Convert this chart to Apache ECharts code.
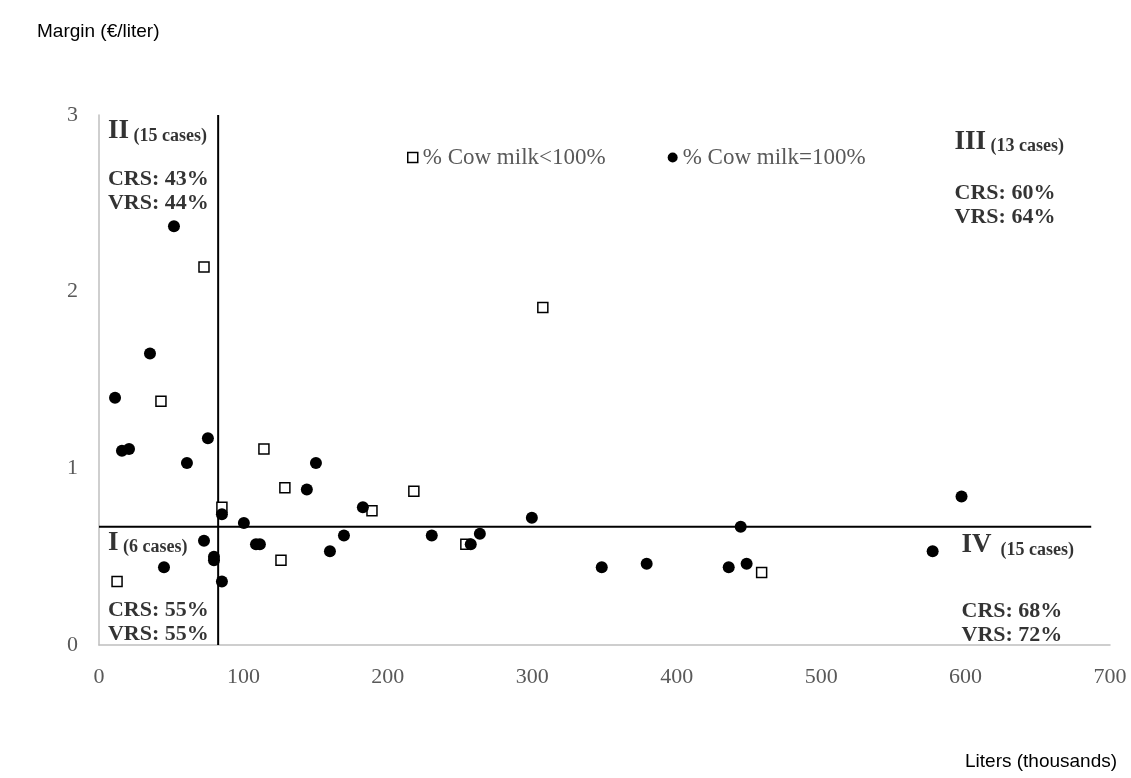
<!DOCTYPE html>
<html>
<head>
<meta charset="utf-8">
<style>
html,body{margin:0;padding:0;background:#fff;}
#chart{width:1131px;height:778px;}
</style>
<script src="https://cdn.jsdelivr.net/npm/echarts@6/dist/echarts.min.js"></script>
</head>
<body>
<div id="chart"></div>
<script>
// ---- data ----
var xTicks = [0, 100, 200, 300, 400, 500, 600, 700];
var yTicks = [0, 1, 2, 3];
var seriesNames = ['% Cow milk<100%', '% Cow milk=100%'];
// % Cow milk < 100% (open squares): [liters (thousands), margin (€/liter)]
var cowLess100 = [
  [72.7, 2.14], [42.9, 1.38], [114.2, 1.11], [128.7, 0.89], [85.1, 0.78],
  [126.0, 0.48], [12.5, 0.36], [189.0, 0.76], [218.0, 0.87], [254.0, 0.57],
  [458.8, 0.41], [307.3, 1.91]
];
// % Cow milk = 100% (filled circles)
var cowEq100 = [
  [51.9, 2.37], [35.3, 1.65], [11.1, 1.40], [15.9, 1.10], [20.8, 1.11],
  [75.4, 1.17], [60.9, 1.03], [150.2, 1.03], [143.9, 0.88], [85.1, 0.74],
  [100.3, 0.69], [72.7, 0.59], [108.7, 0.57], [111.4, 0.57], [159.9, 0.53],
  [79.6, 0.50], [79.6, 0.48], [45.0, 0.44], [85.1, 0.36], [182.7, 0.78],
  [169.6, 0.62], [230.4, 0.62], [257.4, 0.57], [263.7, 0.63], [299.7, 0.72],
  [348.1, 0.44], [379.2, 0.46], [436.0, 0.44], [444.3, 0.67], [448.4, 0.46],
  [577.2, 0.53], [597.2, 0.84]
];
// quadrant split values
var splitX = 82.5;
var splitY = 0.67;
var splitYEnd = 687;
// quadrant annotations
var quadrantHeads = [
  [6.2, 2.91, 'II', ' (15 cases)'],
  [592.4, 2.85, 'III', ' (13 cases)'],
  [6.2, 0.58, 'I', ' (6 cases)'],
  [597.2, 0.566, 'IV', '  (15 cases)']
];
var quadrantStats = [
  [6.2, 2.567, 'CRS: 43%', 'VRS: 44%'],
  [592.4, 2.49, 'CRS: 60%', 'VRS: 64%'],
  [6.2, 0.13, 'CRS: 55%', 'VRS: 55%'],
  [597.2, 0.125, 'CRS: 68%', 'VRS: 72%']
];

var serif = '"Liberation Serif", "Times New Roman", serif';
var chart = echarts.init(document.getElementById('chart'), null, {renderer: 'canvas'});
var option = {
  backgroundColor: '#fff',
  animation: false,
  grid: {left: 99, right: 21, top: 115, bottom: 133, containLabel: false, outerBoundsMode: 'none'},
  legend: {
    left: 402, top: 141,
    itemWidth: 10, itemHeight: 10, itemGap: 62,
    textStyle: {color: '#595959', fontFamily: serif, fontSize: 23},
    data: [
      {name: seriesNames[0], icon: 'rect', itemStyle: {color: '#fff', borderColor: '#000', borderWidth: 1.5}},
      {name: seriesNames[1], icon: 'circle', itemStyle: {color: '#000'}}
    ]
  },
  graphic: [
    {type: 'text', left: 37, top: 22, style: {text: 'Margin (€/liter)', font: '19px "Liberation Sans", Arial, sans-serif', fill: '#000'}},
    {type: 'text', left: 965, top: 752, style: {text: 'Liters (thousands)', font: '19px "Liberation Sans", Arial, sans-serif', fill: '#000'}}
  ],
  xAxis: {
    type: 'value', min: 0, max: 700, interval: 100,
    axisLine: {show: true, lineStyle: {color: '#bfbfbf', width: 1.5}},
    axisTick: {show: false}, splitLine: {show: false},
    axisLabel: {color: '#595959', fontFamily: serif, fontSize: 22, margin: 21,
      formatter: function (v) { return xTicks.indexOf(v) >= 0 ? String(v) : ''; }}
  },
  yAxis: {
    type: 'value', min: 0, max: 3, interval: 1,
    axisLine: {show: true, lineStyle: {color: '#bfbfbf', width: 1.5}},
    axisTick: {show: false}, splitLine: {show: false},
    axisLabel: {color: '#595959', fontFamily: serif, fontSize: 22, margin: 21,
      formatter: function (v) { return yTicks.indexOf(v) >= 0 ? String(v) : ''; }}
  },
  series: [
    {
      type: 'line', silent: true, symbol: 'none', z: 1,
      data: [[splitX, 0], [splitX, 3]],
      lineStyle: {color: '#000', width: 2}
    },
    {
      type: 'line', silent: true, symbol: 'none', z: 1,
      data: [[0, splitY], [splitYEnd, splitY]],
      lineStyle: {color: '#000', width: 2}
    },
    {
      name: seriesNames[0], type: 'scatter', symbol: 'rect', symbolSize: 10, z: 3,
      itemStyle: {color: '#fff', borderColor: '#000', borderWidth: 1.5, opacity: 1},
      data: cowLess100
    },
    {
      name: seriesNames[1], type: 'scatter', symbol: 'circle', symbolSize: 12, z: 4,
      itemStyle: {color: '#000', opacity: 1},
      data: cowEq100
    },
    {
      type: 'scatter', silent: true, symbolSize: 0, z: 5,
      data: quadrantHeads.map(function (d) { return {value: [d[0], d[1]], q: d[2], c: d[3]}; }),
      label: {
        show: true, position: 'right', distance: 0, textBorderWidth: 0,
        formatter: function (p) { return '{big|' + p.data.q + '}{small|' + p.data.c + '}'; },
        rich: {
          big: {fontFamily: serif, fontWeight: 'bold', fontSize: 27, color: '#000', verticalAlign: 'bottom', lineHeight: 28},
          small: {fontFamily: serif, fontWeight: 'bold', fontSize: 18, color: '#000', verticalAlign: 'bottom', lineHeight: 23}
        }
      }
    },
    {
      type: 'scatter', silent: true, symbolSize: 0, z: 5,
      data: quadrantStats.map(function (d) { return {value: [d[0], d[1]], t: d[2] + '\n' + d[3]}; }),
      label: {
        show: true, position: 'right', distance: 0, textBorderWidth: 0,
        formatter: function (p) { return p.data.t; },
        fontFamily: serif, fontWeight: 'bold', fontSize: 22, color: '#000', lineHeight: 24
      }
    }
  ]
};
chart.setOption(option);
</script>
</body>
</html>
